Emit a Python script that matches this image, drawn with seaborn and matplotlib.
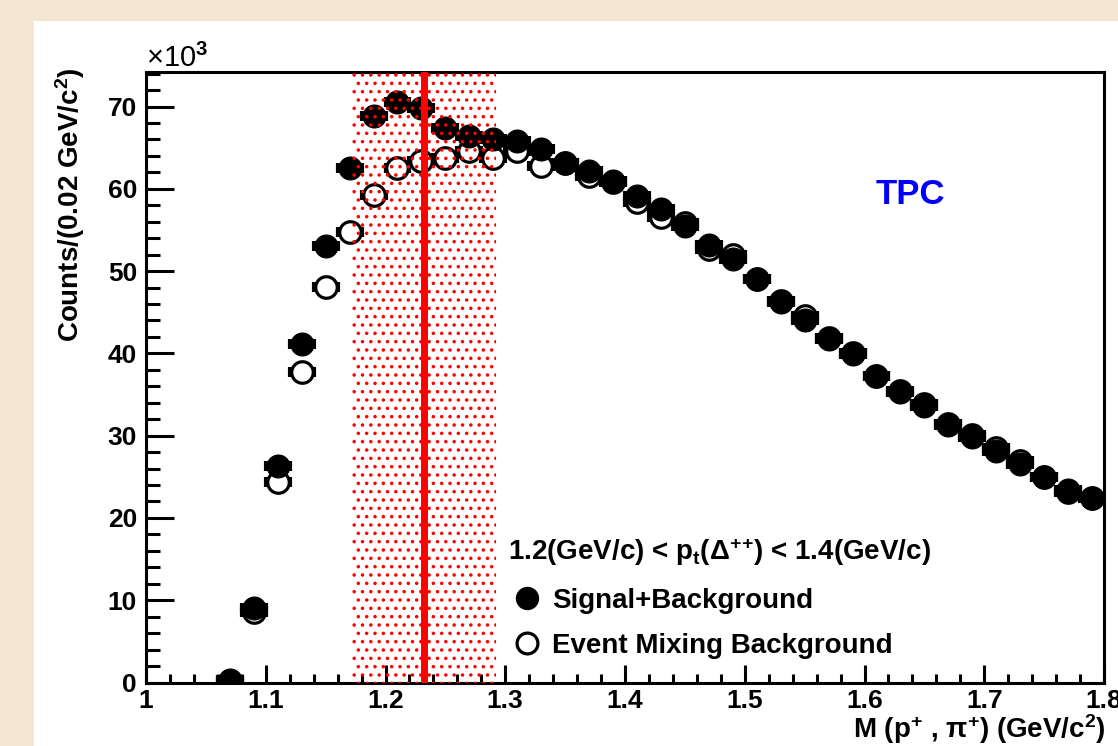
import matplotlib
matplotlib.use("Agg")
import matplotlib.pyplot as plt
from matplotlib.lines import Line2D
from matplotlib.patches import Rectangle
from matplotlib.ticker import MultipleLocator
import pandas as pd
import seaborn as sns

# Invariant-mass bin centres (GeV/c^2), bin width 0.02
mass = [1.07, 1.09, 1.11, 1.13, 1.15, 1.17, 1.19, 1.21, 1.23, 1.25,
        1.27, 1.29, 1.31, 1.33, 1.35, 1.37, 1.39, 1.41, 1.43, 1.45,
        1.47, 1.49, 1.51, 1.53, 1.55, 1.57, 1.59, 1.61, 1.63, 1.65,
        1.67, 1.69, 1.71, 1.73, 1.75, 1.77, 1.79]

# Counts per bin in units of 10^3
same_event = [0.3, 9.0, 26.3, 41.1, 53.0, 62.5, 68.9, 70.5, 69.8, 67.4,
              66.4, 66.0, 65.8, 64.9, 63.2, 62.2, 60.9, 59.1, 57.6, 55.5,
              53.2, 51.5, 49.0, 46.3, 44.1, 41.8, 39.9, 37.3, 35.3, 33.6,
              31.3, 29.8, 28.1, 26.6, 25.0, 23.4, 22.4]
mixed_event = [0.2, 8.6, 24.4, 37.7, 48.1, 54.8, 59.2, 62.5, 63.4, 63.8,
               64.6, 63.7, 64.6, 62.8, 63.1, 61.6, 60.8, 58.4, 56.6, 55.9,
               52.7, 51.9, 49.0, 46.4, 44.5, 41.9, 40.1, 37.2, 35.4, 33.9,
               31.4, 30.1, 28.5, 26.9, 25.0, 23.2, 22.4]

bin_half_width = 0.01
delta_mass = 1.232
mass_window = [1.172, 1.292]

x_ticks = [1.0, 1.1, 1.2, 1.3, 1.4, 1.5, 1.6, 1.7, 1.8]
x_tick_labels = ["1", "1.1", "1.2", "1.3", "1.4", "1.5", "1.6", "1.7", "1.8"]
y_ticks = [0, 10, 20, 30, 40, 50, 60, 70]
y_tick_labels = ["0", "10", "20", "30", "40", "50", "60", "70"]

legend_labels = ["Signal+Background", "Event Mixing Background"]

sns.set_theme(style="ticks")
plt.rcParams["font.family"] = ["Liberation Sans", "DejaVu Sans"]
plt.rcParams.update({
    "font.weight": "bold",
    "text.color": "black",
    "axes.labelcolor": "black",
    "xtick.color": "black",
    "ytick.color": "black",
    "mathtext.fontset": "custom",
    "mathtext.rm": "Liberation Sans",
    "mathtext.bf": "Liberation Sans:bold",
    "mathtext.it": "Liberation Sans:bold",
    "mathtext.sf": "Liberation Sans:bold",
    "mathtext.default": "bf",
    "hatch.linewidth": 1.3,
    "hatch.color": "red",
})

W, H = 1118, 746
fig = plt.figure(figsize=(W / 100, H / 100), dpi=100, facecolor="#f5e6d3")
fig.add_artist(Rectangle((34 / W, 0), 1, 1 - 21 / H, transform=fig.transFigure,
                         facecolor="white", edgecolor="none", zorder=-1))

left, right, top, bottom = 146, 1104, 72, 682.5
ax = fig.add_axes([left / W, 1 - bottom / H, (right - left) / W, (bottom - top) / H])
ax.set_facecolor("white")

df = pd.DataFrame({"mass": mass, "same": same_event, "mixed": mixed_event})

# bin-width bars with short end caps
for col in ("mixed", "same"):
    ax.errorbar(df["mass"], df[col], xerr=bin_half_width, fmt="none",
                ecolor="black", elinewidth=2.2, capsize=3.6, capthick=3.0, zorder=2)

sns.scatterplot(data=df, x="mass", y="mixed", marker="o", s=15.5 ** 2,
                color="white", edgecolor="black", linewidth=2.3, ax=ax, zorder=3)
sns.scatterplot(data=df, x="mass", y="same", marker="o", s=16.5 ** 2,
                color="black", edgecolor="black", linewidth=0.8, ax=ax, zorder=4)

# Delta(1232) mass window and nominal mass
ax.axvspan(mass_window[0], mass_window[1], facecolor="none", edgecolor="red",
           hatch="..", linewidth=0, zorder=5)
ax.axvline(delta_mass, color="red", linewidth=5, zorder=6)

ax.set_xlim(1.0, 1.8)
ax.set_ylim(0, 74.2)
ax.set_xlabel("")
ax.set_ylabel("")
ax.set_xticks(x_ticks, x_tick_labels)
ax.set_yticks(y_ticks, y_tick_labels)
ax.xaxis.set_minor_locator(MultipleLocator(0.02))
ax.yaxis.set_minor_locator(MultipleLocator(2))

for sp in ax.spines.values():
    sp.set_visible(True)
    sp.set_linewidth(2.2)
    sp.set_color("black")

ax.tick_params(axis="y", which="major", direction="in", length=20, width=2.2,
               pad=6.5, labelsize=19, left=True, right=False, colors="black")
ax.tick_params(axis="y", which="minor", direction="in", length=10, width=2.2,
               left=True, right=False)
ax.tick_params(axis="x", which="major", direction="in", length=13, width=2.2,
               pad=4.5, labelsize=19, bottom=True, top=False, colors="black")
ax.tick_params(axis="x", which="minor", direction="in", length=6.5, width=2.2,
               bottom=True, top=False)
for lab in ax.get_xticklabels() + ax.get_yticklabels():
    lab.set_fontweight("bold")

# Axis titles and annotations
fig.text(146 / W, 1 - 67 / H, r"×10$^{\mathrm{3}}$", fontsize=21,
         fontweight="normal", ha="left", va="baseline")
fig.text(70 / W, 1 - 205 / H, "Counts/(0.02 GeV/c$^{2}$)", rotation=90,
         fontsize=20, fontweight="bold", ha="center", va="center")
fig.text(1106 / W, 1 - 738 / H, "M (p$^{+}$ , π$^{+}$) (GeV/c$^{2}$)",
         fontsize=20, fontweight="bold", ha="right", va="baseline")
fig.text(910 / W, 1 - 195 / H, "TPC", color="#0000ff", fontsize=25,
         fontweight="bold", ha="center", va="center")
fig.text(508 / W, 1 - 560 / H, "1.2(GeV/c) < p$_{t}$(Δ$^{+}$$^{+}$) < 1.4(GeV/c)",
         fontsize=20, fontweight="bold", ha="left", va="baseline")

handles = [
    Line2D([], [], linestyle="none", marker="o", markersize=16,
           markerfacecolor="black", markeredgecolor="black", markeredgewidth=0.8),
    Line2D([], [], linestyle="none", marker="o", markersize=15,
           markerfacecolor="white", markeredgecolor="black", markeredgewidth=2.3),
]
ax.legend(handles, legend_labels, loc="upper left",
          bbox_to_anchor=(516 / W, 1 - 588 / H), bbox_transform=fig.transFigure,
          frameon=False, borderpad=0, borderaxespad=0, handlelength=0.8,
          handletextpad=0.49, labelspacing=0.68,
          prop={"size": 20, "weight": "bold"})

fig.savefig("out.png", dpi=100, facecolor=fig.get_facecolor())
